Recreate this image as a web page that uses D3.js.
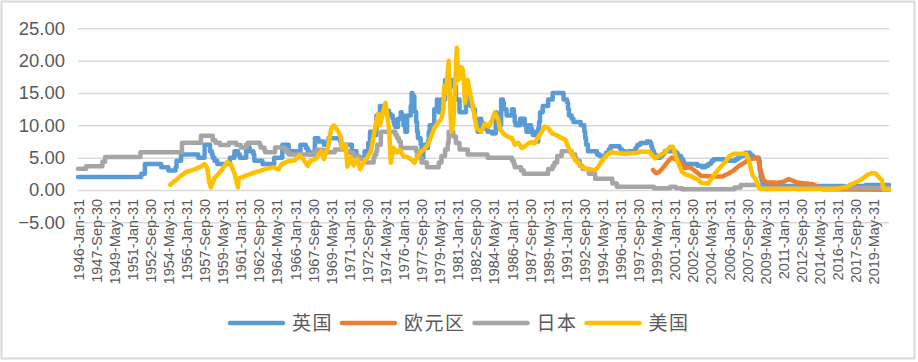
<!DOCTYPE html>
<html>
<head>
<meta charset="utf-8">
<script src="https://cdn.jsdelivr.net/npm/d3@7"></script>
<style>
  body { margin: 0; background: #fff; }
  svg { display: block; }
</style>
</head>
<body>
<svg id="chart" width="918" height="362"></svg>
<script>
// legend order = drawing order
const seriesNames = ['英国', '欧元区', '日本', '美国'];
const seriesColors = ['#5b9bd5', '#ed7d31', '#a5a5a5', '#ffc000'];

// monthly categories, labelled every 20 months
const firstMonth = '1946-01';
const lastMonth = '2020-10';
const labelEvery = 20;
const yTicks = [-5, 0, 5, 10, 15, 20, 25];

// 英国: change points [month, rate], held until the next one
const ukRate = [
  ['1946-01', 2.0], ['1951-11', 2.5], ['1952-03', 4.0], ['1953-09', 3.5], ['1954-05', 3.0], ['1955-01', 3.5],
  ['1955-02', 4.5], ['1955-07', 5.5], ['1957-02', 5.0], ['1957-09', 7.0], ['1958-03', 6.0], ['1958-05', 5.5],
  ['1958-06', 5.0], ['1958-08', 4.5], ['1958-11', 4.0], ['1960-01', 5.0], ['1960-06', 6.0], ['1960-10', 5.5],
  ['1960-12', 5.0], ['1961-07', 7.0], ['1961-10', 6.5], ['1961-11', 6.0], ['1962-03', 5.5], ['1962-04', 4.5],
  ['1963-01', 4.0], ['1964-02', 5.0], ['1964-11', 7.0], ['1965-06', 6.0], ['1966-07', 7.0], ['1967-01', 6.5],
  ['1967-03', 6.0], ['1967-05', 5.5], ['1967-10', 6.0], ['1967-11', 8.0], ['1968-03', 7.5], ['1968-09', 7.0],
  ['1969-02', 8.0], ['1970-03', 7.5], ['1970-04', 7.0], ['1971-04', 6.0], ['1971-09', 5.0], ['1972-06', 6.0],
  ['1972-10', 7.25], ['1972-12', 9.0], ['1973-03', 8.5], ['1973-07', 11.5], ['1973-11', 13.0], ['1974-01', 12.75],
  ['1974-04', 12.25], ['1974-09', 11.75], ['1974-11', 11.5], ['1975-01', 11.0], ['1975-02', 10.5], ['1975-03', 10.0],
  ['1975-04', 9.75], ['1975-07', 11.0], ['1975-10', 12.0], ['1975-11', 11.5], ['1976-01', 10.0], ['1976-03', 9.0],
  ['1976-05', 11.5], ['1976-09', 13.0], ['1976-10', 15.0], ['1976-11', 14.5], ['1977-01', 12.25], ['1977-02', 12.0],
  ['1977-03', 10.5], ['1977-04', 9.0], ['1977-05', 8.0], ['1977-08', 7.0], ['1977-09', 6.0], ['1977-10', 5.0],
  ['1977-11', 7.0], ['1978-01', 6.5], ['1978-04', 7.5], ['1978-05', 9.0], ['1978-06', 10.0], ['1978-11', 12.5],
  ['1979-02', 14.0], ['1979-03', 13.0], ['1979-04', 12.0], ['1979-06', 14.0], ['1979-11', 17.0], ['1980-07', 16.0],
  ['1980-11', 14.0], ['1981-03', 12.0], ['1981-10', 15.0], ['1981-11', 14.5], ['1982-01', 14.0], ['1982-03', 13.0],
  ['1982-06', 12.5], ['1982-08', 11.0], ['1982-10', 10.0], ['1982-11', 9.0], ['1983-01', 11.0], ['1983-03', 10.5],
  ['1983-04', 10.0], ['1983-06', 9.5], ['1983-10', 9.0], ['1984-03', 8.75], ['1984-07', 12.0], ['1984-08', 11.0],
  ['1984-11', 10.0], ['1985-01', 14.0], ['1985-03', 13.5], ['1985-04', 12.5], ['1985-07', 11.5], ['1986-01', 12.5],
  ['1986-03', 11.5], ['1986-04', 10.5], ['1986-05', 10.0], ['1986-10', 11.0], ['1987-03', 10.0], ['1987-05', 9.0],
  ['1987-08', 10.0], ['1987-10', 9.5], ['1987-11', 9.0], ['1987-12', 8.5], ['1988-02', 9.0], ['1988-05', 7.5],
  ['1988-06', 9.5], ['1988-07', 10.5], ['1988-08', 12.0], ['1988-11', 13.0], ['1989-05', 14.0], ['1989-10', 15.0],
  ['1990-10', 14.0], ['1991-02', 13.5], ['1991-03', 12.5], ['1991-04', 11.5], ['1991-07', 11.0], ['1991-09', 10.5],
  ['1992-05', 10.0], ['1992-09', 9.0], ['1992-10', 8.0], ['1992-11', 7.0], ['1993-01', 6.0], ['1993-11', 5.5],
  ['1994-02', 5.25], ['1994-09', 5.75], ['1994-12', 6.25], ['1995-02', 6.75], ['1995-12', 6.5], ['1996-01', 6.25],
  ['1996-03', 6.0], ['1996-06', 5.75], ['1996-10', 6.0], ['1997-05', 6.25], ['1997-06', 6.5], ['1997-07', 6.75],
  ['1997-08', 7.0], ['1997-11', 7.25], ['1998-06', 7.5], ['1998-10', 7.25], ['1998-11', 6.75], ['1998-12', 6.25],
  ['1999-01', 6.0], ['1999-02', 5.5], ['1999-04', 5.25], ['1999-06', 5.0], ['1999-09', 5.25], ['1999-11', 5.5],
  ['2000-01', 5.75], ['2000-02', 6.0], ['2001-02', 5.75], ['2001-04', 5.5], ['2001-05', 5.25], ['2001-08', 5.0],
  ['2001-09', 4.75], ['2001-10', 4.5], ['2001-11', 4.0], ['2003-02', 3.75], ['2003-07', 3.5], ['2003-11', 3.75],
  ['2004-02', 4.0], ['2004-05', 4.25], ['2004-06', 4.5], ['2004-08', 4.75], ['2005-08', 4.5], ['2006-08', 4.75],
  ['2006-11', 5.0], ['2007-01', 5.25], ['2007-05', 5.5], ['2007-07', 5.75], ['2007-12', 5.5], ['2008-02', 5.25],
  ['2008-04', 5.0], ['2008-10', 4.5], ['2008-11', 3.0], ['2008-12', 2.0], ['2009-01', 1.5], ['2009-02', 1.0],
  ['2009-03', 0.6], ['2016-08', 0.5], ['2017-11', 0.6], ['2018-08', 0.75]
];

// 欧元区: monthly readings, joined by straight lines
const euRate = [
  ['1999-01', 3.1], ['1999-04', 2.6], ['1999-07', 2.7], ['1999-12', 3.4], ['2000-06', 4.5], ['2000-10', 5.0],
  ['2001-01', 4.8], ['2001-06', 4.5], ['2001-09', 4.0], ['2001-12', 3.4], ['2002-06', 3.5], ['2002-12', 2.9],
  ['2003-06', 2.2], ['2004-06', 2.1], ['2005-06', 2.1], ['2005-12', 2.5], ['2006-06', 3.0], ['2006-12', 3.7],
  ['2007-06', 4.2], ['2007-10', 4.7], ['2008-06', 4.9], ['2008-09', 5.0], ['2008-12', 3.0], ['2009-03', 1.6],
  ['2009-06', 1.2], ['2010-06', 1.1], ['2011-02', 1.3], ['2011-07', 1.7], ['2011-12', 1.4], ['2012-06', 1.1],
  ['2013-10', 0.9], ['2014-06', 0.3], ['2014-10', 0.1], ['2020-10', 0.05]
];

// 日本: change points, held until the next one
const jpRate = [
  ['1946-01', 3.29], ['1946-10', 3.65], ['1948-04', 4.38], ['1948-07', 5.11], ['1951-10', 5.84], ['1955-08', 7.30],
  ['1957-05', 8.40], ['1958-06', 7.67], ['1958-09', 7.30], ['1959-02', 6.94], ['1959-12', 7.30], ['1960-08', 6.94],
  ['1961-01', 6.57], ['1961-07', 6.94], ['1961-09', 7.30], ['1962-10', 6.94], ['1962-11', 6.57], ['1963-03', 6.21],
  ['1963-04', 5.84], ['1964-03', 6.57], ['1965-01', 6.21], ['1965-04', 5.84], ['1965-06', 5.48], ['1967-09', 5.84],
  ['1968-01', 6.21], ['1968-08', 5.84], ['1969-09', 6.25], ['1970-10', 6.00], ['1971-01', 5.75], ['1971-05', 5.50],
  ['1971-07', 5.25], ['1971-12', 4.75], ['1972-06', 4.25], ['1973-04', 5.00], ['1973-05', 5.50], ['1973-07', 6.00],
  ['1973-08', 7.00], ['1973-12', 9.00], ['1975-04', 8.50], ['1975-06', 8.00], ['1975-08', 7.50], ['1975-10', 6.50],
  ['1977-03', 6.00], ['1977-04', 5.00], ['1977-09', 4.25], ['1978-03', 3.50], ['1979-04', 4.25], ['1979-07', 5.25],
  ['1979-11', 6.25], ['1980-02', 7.25], ['1980-03', 9.00], ['1980-08', 8.25], ['1980-11', 7.25], ['1981-03', 6.25],
  ['1981-12', 5.50], ['1983-10', 5.00], ['1986-01', 4.50], ['1986-03', 4.00], ['1986-04', 3.50], ['1986-11', 3.00],
  ['1987-02', 2.50], ['1989-05', 3.25], ['1989-10', 3.75], ['1989-12', 4.25], ['1990-03', 5.25], ['1990-08', 6.00],
  ['1991-07', 5.50], ['1991-11', 5.00], ['1991-12', 4.50], ['1992-04', 3.75], ['1992-07', 3.25], ['1993-02', 2.50],
  ['1993-09', 1.75], ['1995-04', 1.00], ['1995-09', 0.50], ['1999-02', 0.25], ['2000-08', 0.50], ['2001-02', 0.35],
  ['2001-03', 0.25], ['2001-09', 0.10], ['2006-07', 0.40], ['2007-02', 0.75], ['2008-10', 0.50], ['2008-12', 0.30]
];

// 美国: month-end readings, joined by straight lines
const usRate = [
  ['1954-07', 0.8], ['1954-11', 1.3], ['1955-02', 1.6], ['1955-06', 2.1], ['1956-01', 2.8], ['1956-10', 3.2],
  ['1957-05', 3.6], ['1957-09', 4.0], ['1957-12', 3.4], ['1958-02', 1.3], ['1958-04', 0.4], ['1958-08', 1.8],
  ['1959-01', 2.6], ['1959-06', 3.5], ['1959-10', 4.3], ['1960-02', 4.0], ['1960-06', 2.6], ['1960-10', 0.4],
  ['1960-11', 1.8], ['1961-03', 2.0], ['1961-08', 2.3], ['1962-04', 2.7], ['1962-11', 3.0], ['1963-06', 3.3],
  ['1964-01', 3.5], ['1964-07', 3.2], ['1964-10', 4.0], ['1965-05', 4.4], ['1966-01', 4.6], ['1966-06', 5.4],
  ['1966-10', 4.8], ['1967-03', 3.7], ['1967-06', 4.5], ['1967-12', 4.8], ['1968-06', 6.0], ['1968-09', 4.8],
  ['1969-02', 7.0], ['1969-05', 9.5], ['1969-08', 10.0], ['1970-01', 9.0], ['1970-04', 8.0], ['1970-05', 6.5],
  ['1970-09', 7.0], ['1970-11', 3.6], ['1971-03', 5.0], ['1971-06', 3.8], ['1971-10', 4.8], ['1972-01', 3.2],
  ['1972-05', 4.3], ['1972-09', 5.0], ['1973-01', 6.0], ['1973-05', 9.0], ['1973-06', 10.0], ['1973-09', 11.8],
  ['1973-11', 10.0], ['1974-05', 13.5], ['1974-09', 9.5], ['1974-11', 4.2], ['1975-02', 6.5], ['1975-06', 5.8],
  ['1975-09', 6.2], ['1976-01', 5.2], ['1976-05', 5.1], ['1976-09', 4.8], ['1977-01', 4.2], ['1977-05', 5.2],
  ['1977-08', 5.9], ['1977-12', 6.3], ['1978-04', 7.0], ['1978-07', 8.0], ['1978-11', 9.5], ['1979-02', 10.2],
  ['1979-07', 11.0], ['1979-09', 12.5], ['1979-10', 16.0], ['1979-12', 15.0], ['1980-03', 20.0], ['1980-05', 11.9],
  ['1980-06', 9.0], ['1980-08', 10.0], ['1980-10', 16.0], ['1980-12', 22.0], ['1981-02', 17.0], ['1981-05', 19.0],
  ['1981-07', 18.5], ['1981-09', 13.5], ['1981-12', 17.0], ['1982-04', 14.0], ['1982-07', 12.0], ['1982-10', 9.5],
  ['1983-03', 9.0], ['1983-07', 10.3], ['1983-11', 9.8], ['1984-03', 10.8], ['1984-06', 12.0], ['1984-10', 10.8],
  ['1984-12', 9.3], ['1985-05', 8.5], ['1985-09', 8.2], ['1986-01', 8.0], ['1986-04', 7.0], ['1986-08', 7.3],
  ['1986-12', 6.5], ['1987-03', 6.7], ['1987-07', 7.2], ['1987-11', 7.4], ['1988-02', 7.2], ['1988-06', 8.2],
  ['1988-10', 9.0], ['1989-01', 9.8], ['1989-05', 9.6], ['1989-09', 8.8], ['1990-02', 8.5], ['1990-08', 8.0],
  ['1990-12', 7.8], ['1991-03', 6.7], ['1991-07', 5.7], ['1991-11', 4.6], ['1992-03', 4.1], ['1992-06', 3.6],
  ['1993-01', 3.2], ['1993-09', 3.1], ['1993-12', 3.5], ['1994-04', 4.4], ['1994-10', 5.4], ['1995-03', 5.9],
  ['1995-08', 5.7], ['1996-06', 5.6], ['1997-06', 5.7], ['1997-10', 5.9], ['1998-09', 5.9], ['1998-12', 5.4],
  ['1999-03', 4.9], ['1999-09', 5.4], ['2000-03', 5.9], ['2000-08', 6.7], ['2000-11', 6.7], ['2001-03', 4.8],
  ['2001-06', 3.8], ['2001-09', 2.8], ['2002-01', 2.4], ['2002-06', 2.2], ['2002-10', 1.9], ['2003-03', 1.6],
  ['2003-06', 1.1], ['2004-02', 1.0], ['2004-05', 1.6], ['2004-11', 2.8], ['2005-04', 3.6], ['2005-10', 4.5],
  ['2006-01', 5.2], ['2006-06', 5.6], ['2007-08', 5.6], ['2007-10', 5.0], ['2007-12', 4.0], ['2008-03', 2.3],
  ['2008-07', 1.6], ['2008-10', 0.3], ['2008-12', 0.15], ['2015-11', 0.15], ['2016-12', 0.5], ['2017-03', 0.8],
  ['2017-09', 1.15], ['2018-02', 1.5], ['2018-10', 2.3], ['2019-02', 2.6], ['2019-07', 2.6], ['2019-12', 1.8],
  ['2020-02', 1.6], ['2020-04', 0.1], ['2020-10', 0.1]
];

const svg = d3.select('#chart');
const width = +svg.attr('width');
const height = +svg.attr('height');
const margin = { top: 28.3, right: 29, bottom: 139.7, left: 78 };
const innerWidth = width - margin.left - margin.right;
const innerHeight = height - margin.top - margin.bottom;

// month string -> index from first category
const [y0, m0] = firstMonth.split('-').map(Number);
const monthIndex = s => {
  const [yy, mm] = s.split('-').map(Number);
  return (yy - y0) * 12 + (mm - m0);
};
const nMonths = monthIndex(lastMonth) + 1;
const monthEnd = i => new Date(y0, m0 - 1 + i + 1, 0);
const fmtCat = d3.timeFormat('%Y-%b-%d');

// chart border
svg.append('rect')
  .attr('x', 1.5).attr('y', 1.5)
  .attr('width', 913).attr('height', 357)
  .attr('fill', '#fff')
  .attr('stroke', '#d9d9d9')
  .attr('stroke-width', 2);

const g = svg.append('g')
  .attr('transform', `translate(${margin.left},${margin.top})`);

const x = d3.scaleLinear()
  .domain([0, nMonths - 1])
  .range([0, innerWidth]);

const y = d3.scaleLinear()
  .domain([d3.min(yTicks), d3.max(yTicks)])
  .range([innerHeight, 0]);

// y axis + gridlines
const yAxis = g.append('g')
  .call(d3.axisLeft(y)
    .tickValues(yTicks)
    .tickFormat(d3.format('.2f'))
    .tickSize(-innerWidth)
    .tickPadding(13));
yAxis.select('.domain').remove();
yAxis.selectAll('line')
  .attr('stroke', '#d9d9d9')
  .attr('stroke-width', 1.5);
yAxis.selectAll('text')
  .attr('fill', '#595959')
  .style('font-family', '"Liberation Sans", Arial, sans-serif')
  .style('font-size', '18.5px');

// category axis sits on the zero line
const ticks = d3.range(0, nMonths, labelEvery);
const xAxis = g.append('g')
  .attr('transform', `translate(0,${y(0)})`)
  .call(d3.axisBottom(x)
    .tickValues(ticks)
    .tickSize(0)
    .tickFormat(i => fmtCat(monthEnd(i))));
xAxis.select('.domain').remove();
xAxis.selectAll('text')
  .attr('transform', 'rotate(-90)')
  .attr('x', -9)
  .attr('y', 0)
  .attr('dy', '0.35em')
  .attr('text-anchor', 'end')
  .attr('fill', '#595959')
  .style('font-family', '"Liberation Sans", Arial, sans-serif')
  .style('font-size', '14.5px');

// held series get a closing point so the last level runs to the end
const closeSteps = arr => {
  const last = arr[arr.length - 1];
  return monthIndex(last[0]) < nMonths - 1 ? arr.concat([[lastMonth, last[1]]]) : arr;
};

const series = [
  { name: seriesNames[0], values: closeSteps(ukRate), curve: d3.curveStepAfter },
  { name: seriesNames[1], values: euRate, curve: d3.curveLinear },
  { name: seriesNames[2], values: closeSteps(jpRate), curve: d3.curveStepAfter },
  { name: seriesNames[3], values: usRate, curve: d3.curveLinear }
];

const color = d3.scaleOrdinal()
  .domain(seriesNames)
  .range(seriesColors);

g.selectAll('.series')
  .data(series).enter()
  .append('path')
  .attr('class', 'series')
  .attr('fill', 'none')
  .attr('stroke', d => color(d.name))
  .attr('stroke-width', 4.5)
  .attr('stroke-linejoin', 'round')
  .attr('stroke-linecap', 'round')
  .attr('d', d => d3.line()
    .curve(d.curve)
    .x(p => x(monthIndex(p[0])))
    .y(p => y(p[1]))(d.values));

// legend
const legend = svg.append('g')
  .attr('transform', 'translate(230,323)');
let lx = 0;
seriesNames.forEach(name => {
  const item = legend.append('g').attr('transform', `translate(${lx},0)`);
  item.append('line')
    .attr('x1', 0).attr('x2', 53)
    .attr('stroke', color(name))
    .attr('stroke-width', 4.5)
    .attr('stroke-linecap', 'round');
  const t = item.append('text')
    .attr('x', 62)
    .attr('dy', '0.35em')
    .attr('fill', '#595959')
    .style('font-family', '"Noto Sans CJK SC", sans-serif')
    .style('font-size', '19px')
    .style('letter-spacing', '1.5px')
    .text(name);
  lx += 62 + t.node().getComputedTextLength() + 9;
});
</script>
</body>
</html>
